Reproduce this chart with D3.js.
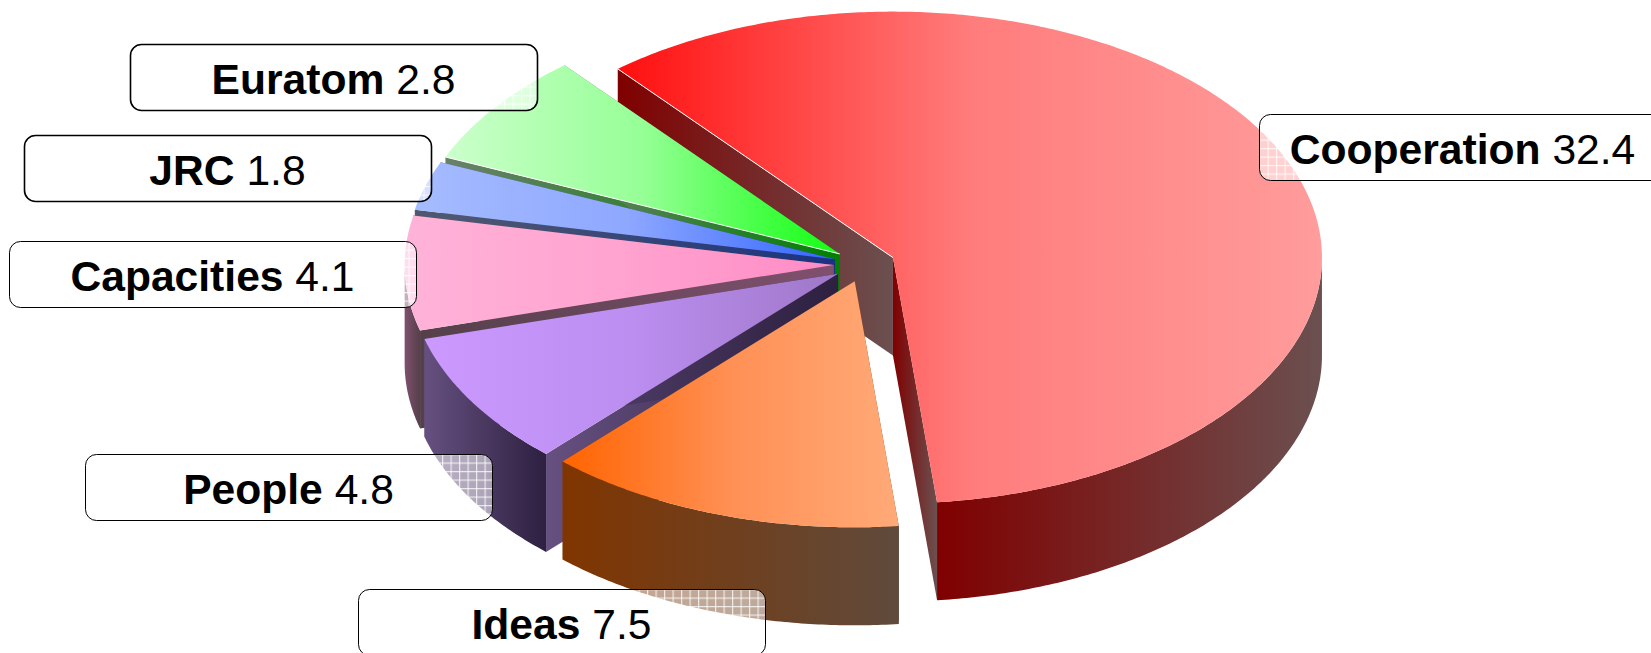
<!DOCTYPE html>
<html>
<head>
<meta charset="utf-8">
<script src="https://cdn.jsdelivr.net/npm/d3@7"></script>
<style>
    body { margin: 0; background: #fff; }
    svg { display: block; }
    text { font-family: "Liberation Sans", Arial, sans-serif; font-size: 42.6px; fill: #000; }
</style>
</head>
<body>
<div id="wrapper"></div>
<script>
// 1. Data
const categories = ["Cooperation", "Ideas", "People", "Capacities", "JRC", "Euratom"]
const labelValues = [32.4, 7.5, 4.8, 4.1, 1.8, 2.8]
// size of each slice as drawn, in degrees
// (the slices are not quite in proportion to the printed values)
const sliceDegrees = [214, 48.8, 31.7, 27, 11.6, 26.9]

// 2. Dimensions
const width = 1651
const height = 653
const center = { x: 864.5, y: 264.5 }
const radiusX = 429
const radiusY = 246
const depth = 98
const explode = 0.072
const startDegrees = -39.9

// left to right colours of the horizontal gradient on each face
const topColors = [
    ["#ff0f0f", "#ff7c7c", "#ff9c9c"],
    ["#ff6400", "#ff9055", "#ffaa78"],
    ["#cc99ff", "#bb8ef0", "#9f78c8"],
    ["#ffb3d9", "#ffa3d0", "#ff8cc6"],
    ["#a5bcff", "#8fa8ff", "#3366ff"],
    ["#ccffcc", "#96ff96", "#11ff11"],
]
const wallColors = [["#800000", "#6b5050"], ["#803500", "#5f4a3c"], ["#665080", "#2d2040"], ["#80506e", "#54404a"], ["#505870", "#1a3380"], ["#6a806a", "#008000"]]
const cutColors = [["#800000", "#6b5050"], ["#803500", "#5f4a3c"], ["#665080", "#2d2040"], ["#54404a", "#80506e"], ["#505870", "#1a3380"], ["#6a806a", "#008000"]]
const whiteEdges = ["Cooperation", "Euratom"]

// label boxes: left and top edge
const boxWidth = 407
const boxHeight = 66
const boxLeft = [1259, 358, 85, 9, 24, 130]
const boxTop = [114, 589, 454, 241, 135, 44]
const boxStroke = [1, 1, 1, 1, 1.6, 1.6]

// 3. Canvas
const svg = d3.select("#wrapper").append("svg")
    .attr("width", width)
    .attr("height", height)
const defs = svg.append("defs")

function addGradient(id, colors) {
    const g = defs.append("linearGradient").attr("id", id)
    colors.forEach((c, i) => {
        g.append("stop").attr("offset", i / (colors.length - 1)).attr("stop-color", c)
    })
    return `url(#${id})`
}

// mesh the label boxes are filled with: pie shows through, white grid on top
const mesh = defs.append("pattern")
    .attr("id", "mesh")
    .attr("patternUnits", "userSpaceOnUse")
    .attr("width", 8.5)
    .attr("height", 8.5)
mesh.append("rect").attr("width", 8.5).attr("height", 8.5).attr("fill", "#fff").attr("fill-opacity", 0.55)
mesh.append("rect").attr("width", 8.5).attr("height", 1.2).attr("fill", "#fff").attr("fill-opacity", 0.75)
mesh.append("rect").attr("width", 1.2).attr("height", 8.5).attr("fill", "#fff").attr("fill-opacity", 0.75)

// 4. Scales
const xScale = d3.scaleLinear().domain([-1, 1]).range([center.x - radiusX, center.x + radiusX])
const yScale = d3.scaleLinear().domain([-1, 1]).range([center.y - radiusY, center.y + radiusY])

const toRadians = d => d * Math.PI / 180
const pieGenerator = d3.pie()
    .sort(null)
    .startAngle(toRadians(startDegrees))
    .endAngle(toRadians(startDegrees + 360))
const arcs = pieGenerator(sliceDegrees)

const line = d3.line().x(d => d[0]).y(d => d[1])

// point on the slice's own exploded disc, r in 0..1, angle clockwise from north
function project(slice, r, angle) {
    const mid = (slice.startAngle + slice.endAngle) / 2
    return [
        xScale(explode * Math.sin(mid) + r * Math.sin(angle)),
        yScale(-explode * Math.cos(mid) - r * Math.cos(angle)),
    ]
}

function arcPoints(slice, from, to) {
    const steps = Math.max(2, Math.ceil((to - from) / 0.01))
    return d3.range(steps + 1).map(i => project(slice, 1, from + (to - from) * i / steps))
}

const shifted = points => points.map(p => [p[0], p[1] + depth])

// 5. Draw data, back to front
const drawOrder = [0, 5, 4, 3, 2, 1]
const pie = svg.append("g")

drawOrder.forEach(i => {
    const slice = arcs[i]
    const group = pie.append("g").attr("class", categories[i])
    const apex = project(slice, 0, 0)
    const first = project(slice, 1, slice.startAngle)
    const last = project(slice, 1, slice.endAngle)
    const cutFill = addGradient(`cut${i}`, cutColors[i])

    // the two cut faces
    ;[first, last].forEach(p => {
        group.append("path")
            .attr("d", line([apex, p, [p[0], p[1] + depth], [apex[0], apex[1] + depth]]) + "Z")
            .attr("fill", cutFill)
    })

    // rim, only the part on the near side of the disc
    const from = Math.max(slice.startAngle, Math.PI / 2)
    const to = Math.min(slice.endAngle, Math.PI * 1.5)
    if (to > from) {
        const rim = arcPoints(slice, from, to)
        group.append("path")
            .attr("d", line(rim.concat(shifted(rim).reverse())) + "Z")
            .attr("fill", addGradient(`wall${i}`, wallColors[i]))
    }

    // top face
    group.append("path")
        .attr("d", line([apex].concat(arcPoints(slice, slice.startAngle, slice.endAngle))) + "Z")
        .attr("fill", addGradient(`top${i}`, topColors[i]))

    if (whiteEdges.includes(categories[i])) {
        group.append("path")
            .attr("d", line([apex, first]))
            .attr("stroke", "#fff")
            .attr("stroke-width", 1)
    }
})

// 6. Draw peripherals
const labels = svg.selectAll(".label")
    .data(categories)
    .enter().append("g")
    .attr("class", "label")
    .attr("transform", (d, i) => `translate(${boxLeft[i]}, ${boxTop[i]})`)

labels.append("rect")
    .attr("x", 0.5)
    .attr("y", 0.5)
    .attr("width", boxWidth)
    .attr("height", boxHeight)
    .attr("rx", 11)
    .attr("fill", "url(#mesh)")
    .attr("stroke", "#000")
    .attr("stroke-width", (d, i) => boxStroke[i])

const labelText = labels.append("text")
    .attr("x", boxWidth / 2)
    .attr("y", boxHeight / 2 + 16.5)
    .attr("text-anchor", "middle")
labelText.append("tspan").attr("font-weight", "bold").text(d => d)
labelText.append("tspan").text((d, i) => ` ${labelValues[i].toFixed(1)}`)
</script>
</body>
</html>
